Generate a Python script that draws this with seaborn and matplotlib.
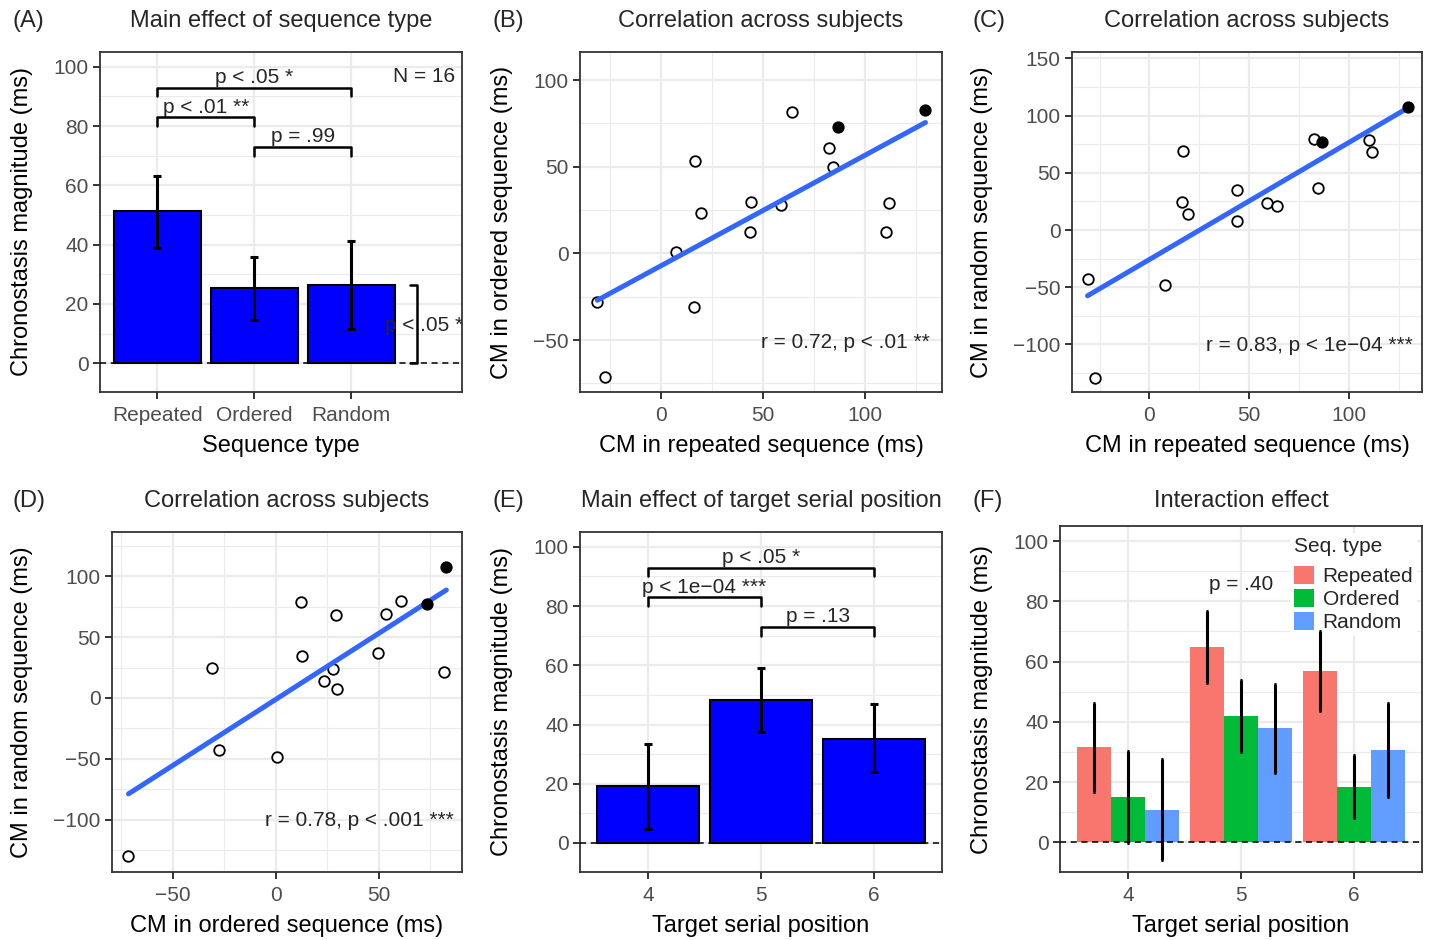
import matplotlib
matplotlib.use("Agg")
import matplotlib.pyplot as plt
from matplotlib.ticker import MultipleLocator
import numpy as np
import pandas as pd
import seaborn as sns

cm_repeated = [-31.0, -27.2, 7.6, 16.2, 16.7, 19.5, 44.0, 43.7, 59.0, 64.0, 82.3, 84.4, 86.7, 111.5, 110.3, 129.5]
cm_ordered = [-27.8, -71.5, 0.5, -30.8, 53.5, 23.3, 29.6, 12.6, 27.7, 81.8, 60.7, 49.6, 73.2, 29.2, 12.1, 82.8]
cm_random = [-42.8, -129.5, -48.2, 24.7, 68.8, 14.0, 7.7, 34.7, 24.0, 21.2, 79.5, 37.0, 77.0, 68.5, 78.6, 107.5]
highlighted = [False] * 12 + [True, False, False, True]

# panel A: main effect of sequence type
seq_types = ["Repeated", "Ordered", "Random"]
seq_mean = [51.4, 25.3, 26.3]
seq_lo = [39.0, 14.5, 11.4]
seq_hi = [63.3, 36.0, 41.3]

# panel E: main effect of target serial position
positions = ["4", "5", "6"]
pos_mean = [19.2, 48.2, 35.2]
pos_lo = [4.7, 37.4, 23.9]
pos_hi = [33.4, 59.0, 46.9]

# panel F: interaction
int_repeated = [31.7, 64.9, 56.9]
int_repeated_lo = [16.9, 52.9, 43.7]
int_repeated_hi = [46.2, 76.9, 70.2]
int_ordered = [15.1, 42.0, 18.5]
int_ordered_lo = [-0.2, 30.0, 8.2]
int_ordered_hi = [30.5, 54.0, 29.0]
int_random = [10.7, 38.0, 30.7]
int_random_lo = [-5.7, 23.1, 15.2]
int_random_hi = [27.6, 52.6, 46.2]
seq_palette = ["#F8766D", "#00BA38", "#619CFF"]

sns.set_theme(style="whitegrid")
plt.rcParams["font.family"] = ["Liberation Sans", "DejaVu Sans"]

W, H = 1429, 940
fig = plt.figure(figsize=(W / 100, H / 100), dpi=100)
fig.patch.set_facecolor("white")


def add_panel(l, t, r, b):
    ax = fig.add_axes([l / W, 1 - b / H, (r - l) / W, (b - t) / H])
    ax.box_px = (l, t, r, b)
    return ax


def style_axes(ax, major, minor, scatter=False):
    ax.set_facecolor("white")
    ax.yaxis.set_major_locator(MultipleLocator(major))
    ax.yaxis.set_minor_locator(MultipleLocator(minor))
    if scatter:
        ax.xaxis.set_major_locator(MultipleLocator(major))
        ax.xaxis.set_minor_locator(MultipleLocator(minor))
    ax.grid(True, which="major", color="#EBEBEB", lw=1.6)
    ax.grid(True, which="minor", color="#EBEBEB", lw=0.8)
    ax.set_axisbelow(True)
    for sp in ax.spines.values():
        sp.set_visible(True)
        sp.set_color("#333333")
        sp.set_linewidth(1.3)
    ax.tick_params(which="major", length=4.7, width=1.4, color="#333333",
                   labelsize=15, labelcolor="#4D4D4D", pad=3.6,
                   bottom=True, left=True)
    ax.tick_params(axis="x", which="major", pad=5.2)
    ax.tick_params(which="minor", length=0)


def set_labels(ax, xlabel, ylabel, ylab_x):
    l, t, r, b = ax.box_px
    ax.set_xlabel(xlabel, fontsize=17, color="black")
    ax.set_ylabel(ylabel, fontsize=17, color="black")
    ax.xaxis.set_label_coords(0.5, -54 / (b - t))
    ax.xaxis.label.set_va("center")
    ax.yaxis.set_label_coords((ylab_x - l) / (r - l), 0.5)
    ax.yaxis.label.set_va("center")


def panel_title(ax, tag, title, col_x, y_px):
    l, t, r, b = ax.box_px
    fig.text(col_x / W, 1 - y_px / H, tag, fontsize=17, ha="left", va="center")
    fig.text((l + r) / 2 / W, 1 - y_px / H, title, fontsize=17, ha="center", va="center")


def bracket(ax, x1, x2, y, label):
    ax.plot([x1, x1, x2, x2], [y - 3, y, y, y - 3], color="black", lw=1.8, zorder=5)
    ax.text((x1 + x2) / 2, y + 0.2, label, ha="center", va="bottom", fontsize=15)


def summary_bars(ax, cats, mean, lo, hi):
    df = pd.DataFrame({"cat": cats, "cm": mean})
    sns.barplot(data=df, x="cat", y="cm", color="#0000FF", saturation=1,
                edgecolor="black", linewidth=1.5, width=0.9, errorbar=None, ax=ax)
    m = np.array(mean)
    ax.errorbar(np.arange(len(cats)), m, yerr=[m - np.array(lo), np.array(hi) - m],
                fmt="none", ecolor="black", elinewidth=2.2, capsize=3, capthick=2.2, zorder=6)
    ax.axhline(0, color="black", ls=(0, (4, 3)), lw=1.1, zorder=4)


def scatter_panel(ax, x, y, xlim, ylim, note, note_xy):
    df = pd.DataFrame({"x": x, "y": y, "hl": highlighted})
    sns.scatterplot(data=df[~df.hl], x="x", y="y", s=58, color="white",
                    edgecolor="black", linewidth=1.3, ax=ax, zorder=3)
    sns.regplot(data=df, x="x", y="y", scatter=False, ci=None, ax=ax,
                line_kws=dict(color="#3366FF", lw=3.6, zorder=4))
    sns.scatterplot(data=df[df.hl], x="x", y="y", s=78, color="black",
                    edgecolor="black", linewidth=0, ax=ax, zorder=5)
    ax.set_xlim(*xlim)
    ax.set_ylim(*ylim)
    style_axes(ax, 50, 25, scatter=True)
    ax.text(note_xy[0], note_xy[1], note, ha="right", va="center", fontsize=15)


# (A)
axA = add_panel(100, 52, 462, 392)
summary_bars(axA, seq_types, seq_mean, seq_lo, seq_hi)
axA.set_xlim(-0.59, 3.14)
axA.set_ylim(-9.7, 105)
style_axes(axA, 20, 10)
bracket(axA, 0, 2, 93, "p < .05 *")
bracket(axA, 0, 1, 83, "p < .01 **")
bracket(axA, 1, 2, 73, "p = .99")
axA.plot([2.605, 2.68, 2.68, 2.605], [seq_mean[2], seq_mean[2], 0, 0], color="black", lw=1.8, zorder=5)
axA.text(2.347, 12.9, "p < .05 *", ha="left", va="center", fontsize=15, clip_on=True)
axA.text(3.07, 96.9, "N = 16", ha="right", va="center", fontsize=15)
set_labels(axA, "Sequence type", "Chronostasis magnitude (ms)", 22)
panel_title(axA, "(A)", "Main effect of sequence type", 12, 21)

# (B)
axB = add_panel(580, 52, 942, 392)
scatter_panel(axB, cm_repeated, cm_ordered, (-39.5, 137.6), (-80.0, 116.2),
              "r = 0.72, p < .01 **", (131.7, -51.6))
set_labels(axB, "CM in repeated sequence (ms)", "CM in ordered sequence (ms)", 502)
panel_title(axB, "(B)", "Correlation across subjects", 492, 21)

# (C)
axC = add_panel(1072, 52, 1422, 392)
scatter_panel(axC, cm_repeated, cm_random, (-38.8, 136.7), (-141.5, 155.5),
              "r = 0.83, p < 1e\u221204 ***", (132.3, -101.3))
set_labels(axC, "CM in repeated sequence (ms)", "CM in random sequence (ms)", 982)
panel_title(axC, "(C)", "Correlation across subjects", 972, 21)

# (D)
axD = add_panel(112, 532, 462, 872)
scatter_panel(axD, cm_ordered, cm_random, (-79.5, 90.4), (-143.0, 136.4),
              "r = 0.78, p < .001 ***", (86.6, -100.3))
set_labels(axD, "CM in ordered sequence (ms)", "CM in random sequence (ms)", 22)
panel_title(axD, "(D)", "Correlation across subjects", 12, 501)

# (E)
axE = add_panel(580, 532, 942, 872)
summary_bars(axE, positions, pos_mean, pos_lo, pos_hi)
axE.set_xlim(-0.6, 2.6)
axE.set_ylim(-9.8, 105)
style_axes(axE, 20, 10)
bracket(axE, 0, 2, 93, "p < .05 *")
bracket(axE, 0, 1, 83, "p < 1e\u221204 ***")
bracket(axE, 1, 2, 73, "p = .13")
set_labels(axE, "Target serial position", "Chronostasis magnitude (ms)", 502)
panel_title(axE, "(E)", "Main effect of target serial position", 492, 501)

# (F)
axF = add_panel(1060, 526, 1422, 872)
int_df = pd.DataFrame({
    "pos": positions * 3,
    "type": [s for s in seq_types for _ in positions],
    "cm": int_repeated + int_ordered + int_random,
})
sns.barplot(data=int_df, x="pos", y="cm", hue="type", hue_order=seq_types,
            palette=seq_palette, saturation=1, width=0.9, errorbar=None,
            linewidth=0, edgecolor="none", ax=axF)
for j, (m, lo, hi) in enumerate([(int_repeated, int_repeated_lo, int_repeated_hi),
                                 (int_ordered, int_ordered_lo, int_ordered_hi),
                                 (int_random, int_random_lo, int_random_hi)]):
    m = np.array(m)
    axF.errorbar(np.arange(3) + (j - 1) * 0.3, m, yerr=[m - np.array(lo), np.array(hi) - m],
                 fmt="none", ecolor="black", elinewidth=2.2, capsize=0.8, capthick=2.2, zorder=6)
axF.axhline(0, color="black", ls=(0, (4, 3)), lw=1.1, zorder=4)
axF.set_xlim(-0.6, 2.6)
axF.set_ylim(-9.8, 105)
style_axes(axF, 20, 10)
axF.text(1, 85.7, "p = .40", ha="center", va="center", fontsize=15)
handles, labels = axF.get_legend_handles_labels()
leg = axF.legend(handles, labels, title="Seq. type", loc="upper left",
                 bbox_to_anchor=((1290 - 1060) / 362, 0.98), fontsize=15,
                 title_fontsize=15, frameon=True, facecolor="white", edgecolor="none",
                 framealpha=1, fancybox=False, borderpad=0.2, handlelength=0.96,
                 handleheight=0.96, labelspacing=0.12, handletextpad=0.4,
                 borderaxespad=0, alignment="left")
leg._legend_box.sep = 7.2
set_labels(axF, "Target serial position", "Chronostasis magnitude (ms)", 982)
panel_title(axF, "(F)", "Interaction effect", 972, 501)

fig.savefig("out.png", dpi=100, facecolor="white")
